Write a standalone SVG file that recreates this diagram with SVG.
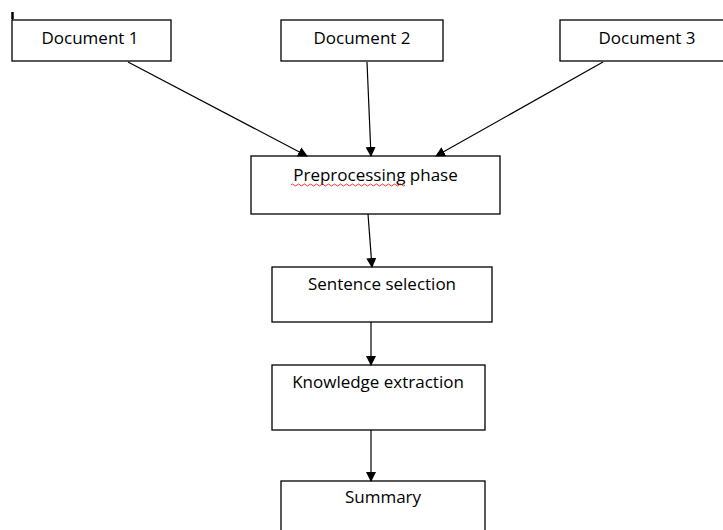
<svg xmlns="http://www.w3.org/2000/svg" width="723" height="530" viewBox="0 0 723 530">
<style>
.box{fill:#fff;stroke:#000;stroke-width:1.3}
.lbl{font-family:"Open Sans","Liberation Sans",sans-serif;font-size:17px;fill:#000;text-anchor:middle}
.edge{stroke:#000;stroke-width:1.2;fill:none;marker-end:url(#ah)}
</style>
<defs>
<marker id="ah" markerWidth="10" markerHeight="10" refX="9" refY="5" orient="auto" markerUnits="userSpaceOnUse">
<path d="M0,0 L10,5 L0,10 Z" fill="#000"/>
</marker>
</defs>
<rect width="723" height="530" fill="#fff"/>
<line x1="12.5" y1="12" x2="12.5" y2="33" stroke="#000" stroke-width="1"/>
<line x1="12.5" y1="12" x2="12.5" y2="19" stroke="#000" stroke-width="2.5"/>
<g id="doc1"><rect class="box" x="12" y="20" width="159" height="41"/><text class="lbl" x="90" y="44">Document 1</text></g>
<g id="doc2"><rect class="box" x="281" y="20" width="162" height="41"/><text class="lbl" x="362" y="44">Document 2</text></g>
<g id="doc3"><rect class="box" x="560" y="20" width="170" height="41"/><text class="lbl" x="647" y="44">Document 3</text></g>
<g id="preprocessing"><rect class="box" x="251" y="156" width="249" height="58"/><text class="lbl" x="375.5" y="181">Preprocessing phase</text>
<path d="M291,185 q1.5,-2 3,0 t3,0 t3,0 t3,0 t3,0 t3,0 t3,0 t3,0 t3,0 t3,0 t3,0 t3,0 t3,0 t3,0 t3,0 t3,0 t3,0 t3,0 t3,0 t3,0 t3,0 t3,0 t3,0 t3,0 t3,0 t3,0 t3,0 t3,0 t3,0 t3,0 t3,0 t3,0 t3,0 t3,0 t3,0 t3,0 t3,0 t3,0" stroke="#e00" stroke-width="0.8" fill="none"/></g>
<g id="sentence"><rect class="box" x="272" y="267" width="220" height="55"/><text class="lbl" x="382" y="290">Sentence selection</text></g>
<g id="knowledge"><rect class="box" x="272" y="365" width="213" height="65"/><text class="lbl" x="378" y="388">Knowledge extraction</text></g>
<g id="summary"><rect class="box" x="281" y="481" width="204" height="60"/><text class="lbl" x="383" y="503">Summary</text></g>
<g id="connectors">
<line class="edge" x1="128" y1="62" x2="307" y2="156"/>
<line class="edge" x1="367" y1="62" x2="371" y2="156"/>
<line class="edge" x1="603" y1="62" x2="436" y2="156"/>
<line class="edge" x1="368" y1="214" x2="372" y2="267"/>
<line class="edge" x1="371" y1="322" x2="371" y2="365"/>
<line class="edge" x1="371" y1="430" x2="371" y2="481"/>
</g>
</svg>
